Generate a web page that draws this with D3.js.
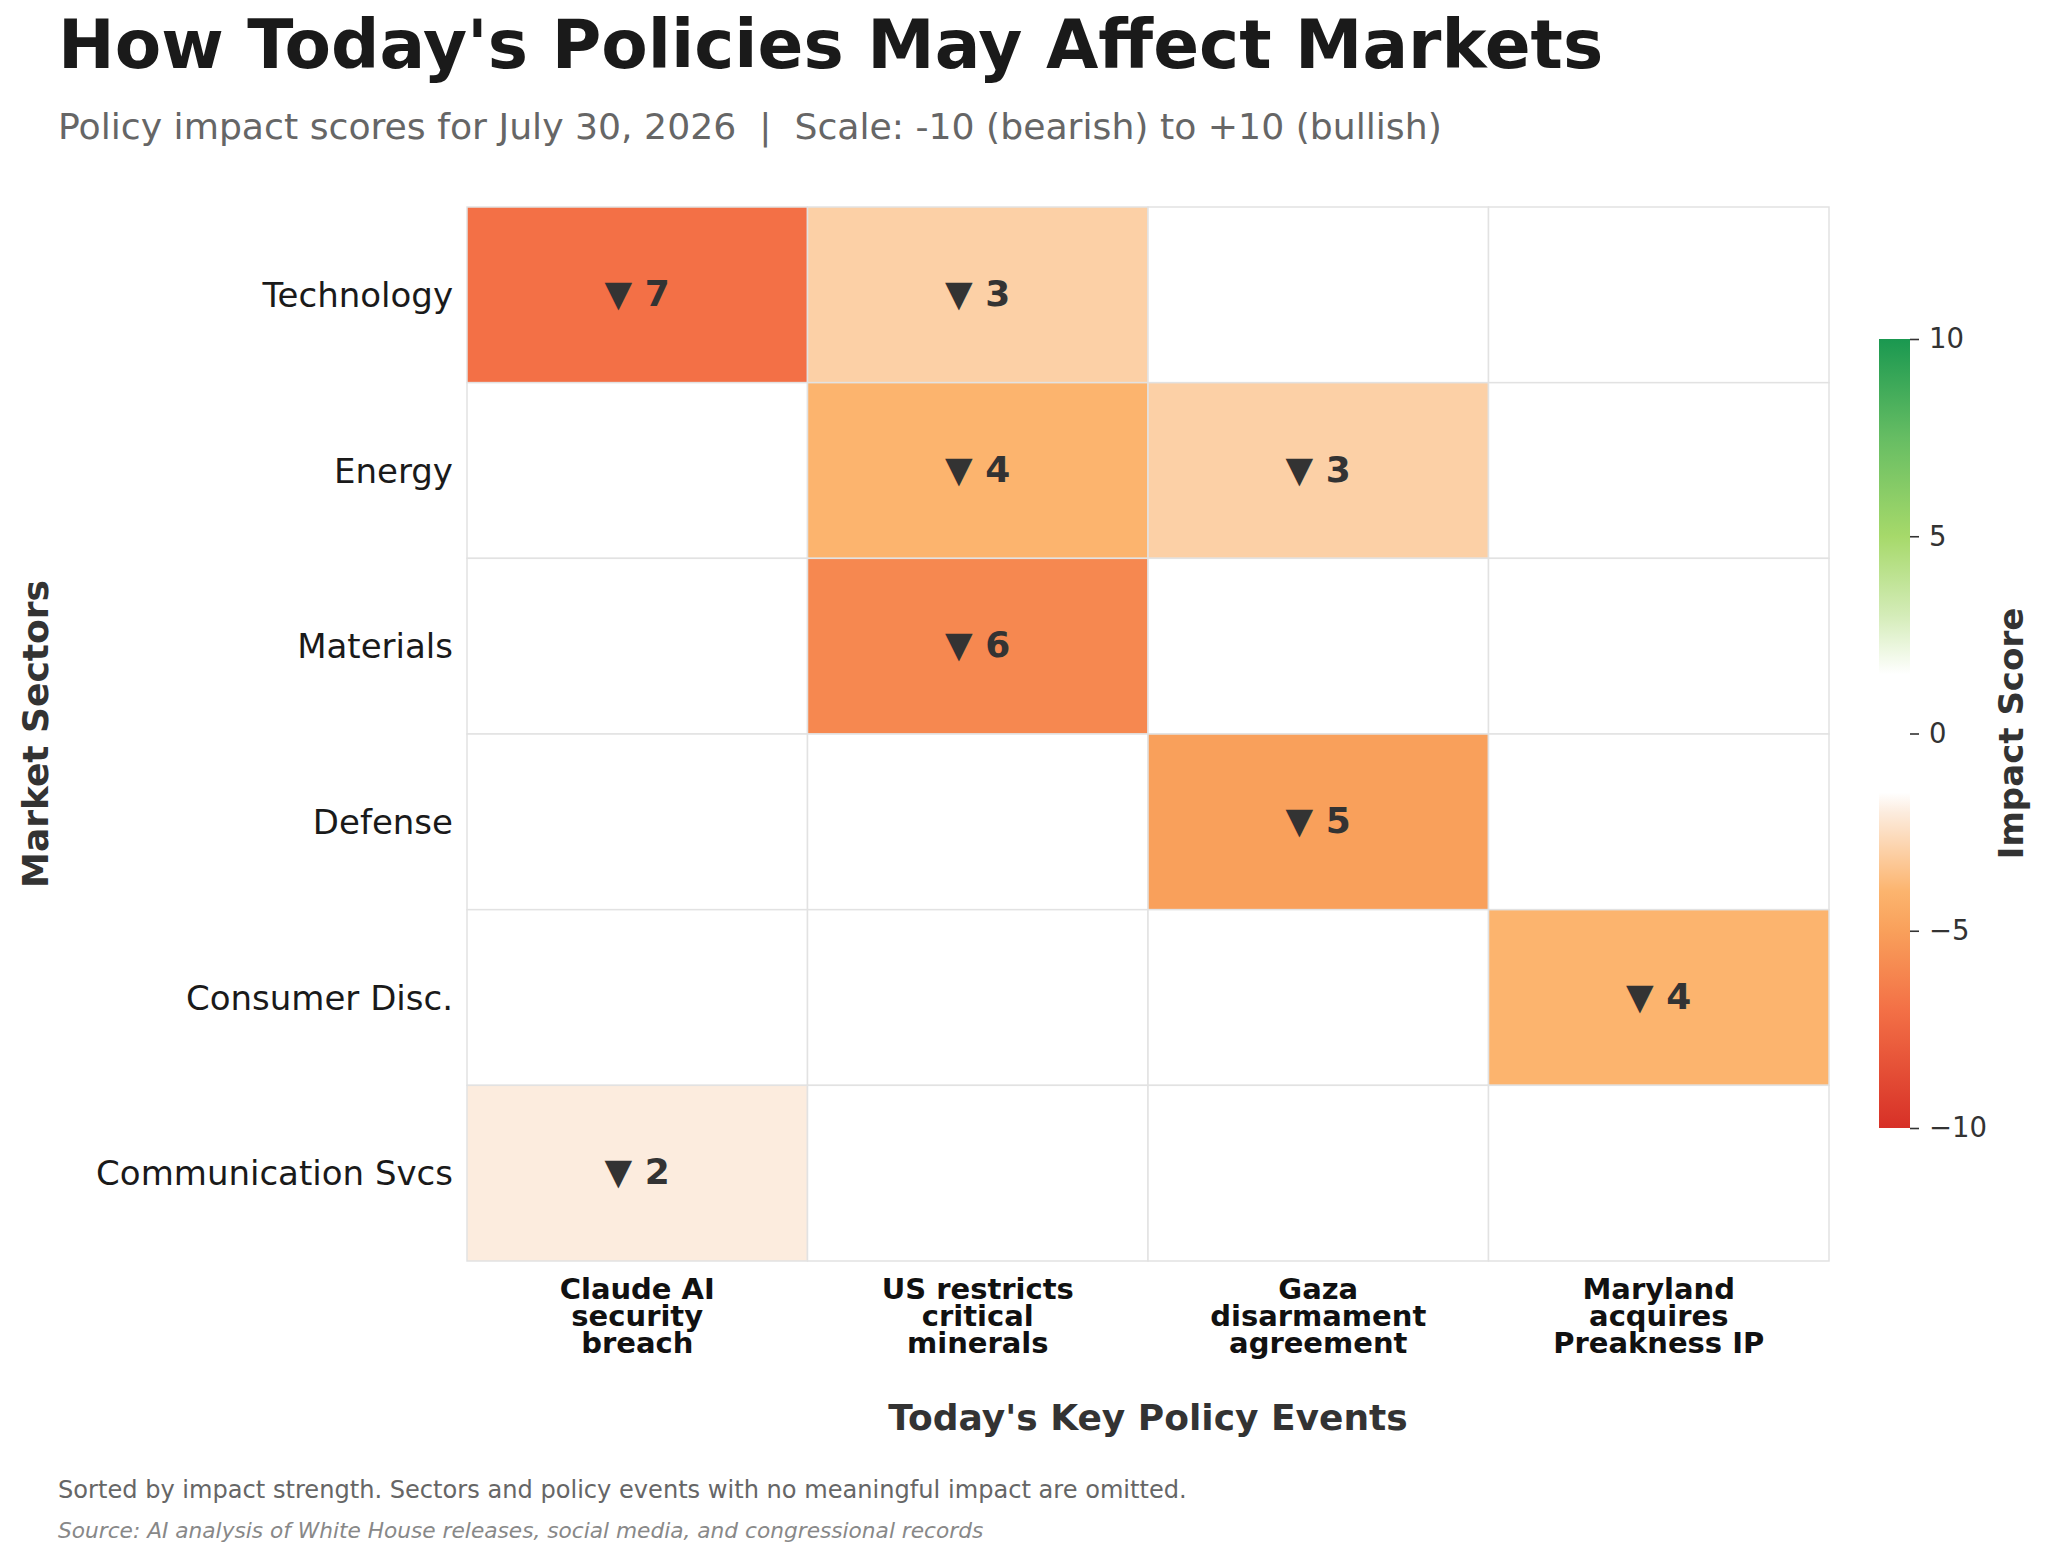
<!DOCTYPE html>
<html>
<head>
<meta charset="utf-8">
<script src="https://cdn.jsdelivr.net/npm/d3@7"></script>
<style>
  body { margin: 0; background: #fff; }
  svg { display: block; font-family: "DejaVu Sans", sans-serif; }
</style>
</head>
<body>
<svg id="chart" width="2048" height="1560"></svg>
<script>
// sectors (rows) and policy events (columns)
const sectors = ["Technology", "Energy", "Materials", "Defense", "Consumer Disc.", "Communication Svcs"];
const events = ["Claude AI security breach", "US restricts critical minerals", "Gaza disarmament agreement", "Maryland acquires Preakness IP"];
const eventLines = [
  ["Claude AI", "security", "breach"],
  ["US restricts", "critical", "minerals"],
  ["Gaza", "disarmament", "agreement"],
  ["Maryland", "acquires", "Preakness IP"]
];
// impact scores, one row per sector
const scores = [
  [-7, -3, 0, 0],
  [0, -4, -3, 0],
  [0, -6, 0, 0],
  [0, 0, -5, 0],
  [0, 0, 0, -4],
  [-2, 0, 0, 0]
];
const cbarTicks = [-10, -5, 0, 5, 10];

// colour ramp: red (bearish) -> white (neutral) -> green (bullish)
const colorStops = [-10, -7, -6, -5, -4, -3, -2, -1.5, 1.5, 3, 5, 7.5, 10];
const colorValues = ["#d73027", "#f37046", "#f68850", "#f9a05b", "#fcb46e", "#fcd0a6", "#fcecde",
  "#ffffff", "#ffffff", "#d4ecb8", "#a6d96a", "#66bd63", "#1a9850"];

const color = d3.scaleLinear()
  .domain(colorStops)
  .range(colorValues)
  .interpolate(d3.interpolateRgb)
  .clamp(true);

const svg = d3.select("#chart");

const grid = { left: 467, right: 1829, top: 207, bottom: 1261 };

const x = d3.scaleBand()
  .domain(events)
  .range([grid.left, grid.right]);

const y = d3.scaleBand()
  .domain(sectors)
  .range([grid.top, grid.bottom]);

// flatten the table into cells
const cells = [];
scores.forEach((row, i) => {
  row.forEach((v, j) => {
    cells.push({ sector: sectors[i], event: events[j], value: v });
  });
});

svg.append("g")
  .selectAll("rect")
  .data(cells)
  .enter()
  .append("rect")
  .attr("x", d => x(d.event))
  .attr("y", d => y(d.sector))
  .attr("width", x.bandwidth())
  .attr("height", y.bandwidth())
  .attr("fill", d => color(d.value))
  .attr("stroke", "#e2e2e2")
  .attr("stroke-width", 1.5);

// annotations
svg.append("g")
  .selectAll("text")
  .data(cells.filter(d => d.value !== 0))
  .enter()
  .append("text")
  .attr("x", d => x(d.event) + x.bandwidth() / 2)
  .attr("y", d => y(d.sector) + y.bandwidth() / 2 + 11)
  .attr("text-anchor", "middle")
  .attr("font-size", 36)
  .attr("font-weight", "bold")
  .attr("fill", "#333")
  .text(d => (d.value < 0 ? "\u25BC " : "\u25B2 ") + Math.abs(d.value));

// y axis
const yAxis = svg.append("g")
  .attr("transform", `translate(${grid.left},0)`)
  .call(d3.axisLeft(y).tickSize(0).tickPadding(14));
yAxis.select(".domain").remove();
yAxis.selectAll("text")
  .attr("font-size", 34)
  .attr("font-family", "DejaVu Sans")
  .attr("fill", "#1a1a1a")
  .attr("dy", "0.36em");

// x axis with wrapped labels
const xAxis = svg.append("g")
  .attr("transform", `translate(0,${grid.bottom})`)
  .call(d3.axisBottom(x).tickSize(0));
xAxis.select(".domain").remove();
xAxis.selectAll("text")
  .attr("font-size", 29)
  .attr("font-family", "DejaVu Sans")
  .attr("font-weight", "bold")
  .attr("fill", "#111")
  .attr("y", 0)
  .attr("dy", null)
  .text(null)
  .each(function (d) {
    const lines = eventLines[events.indexOf(d)];
    d3.select(this).selectAll("tspan")
      .data(lines)
      .enter()
      .append("tspan")
      .attr("x", 0)
      .attr("y", (l, i) => 38 + i * 27)
      .text(l => l);
  });

// axis titles
svg.append("text")
  .attr("x", (grid.left + grid.right) / 2)
  .attr("y", 1430)
  .attr("text-anchor", "middle")
  .attr("font-size", 36)
  .attr("font-weight", "bold")
  .attr("fill", "#333")
  .text("Today's Key Policy Events");

svg.append("text")
  .attr("transform", `translate(48,${(grid.top + grid.bottom) / 2}) rotate(-90)`)
  .attr("text-anchor", "middle")
  .attr("font-size", 36)
  .attr("font-weight", "bold")
  .attr("fill", "#333")
  .text("Market Sectors");

// colour bar
const cbar = { x: 1879, width: 31, top: 339, bottom: 1128 };
const cScale = d3.scaleLinear()
  .domain([-10, 10])
  .range([cbar.bottom, cbar.top]);

const grad = svg.append("defs")
  .append("linearGradient")
  .attr("id", "cbarGrad")
  .attr("x1", 0).attr("y1", 1)
  .attr("x2", 0).attr("y2", 0);
grad.selectAll("stop")
  .data(colorStops)
  .enter()
  .append("stop")
  .attr("offset", d => (d + 10) / 20)
  .attr("stop-color", d => color(d));

svg.append("rect")
  .attr("x", cbar.x)
  .attr("y", cbar.top)
  .attr("width", cbar.width)
  .attr("height", cbar.bottom - cbar.top)
  .attr("fill", "url(#cbarGrad)");

const cAxis = svg.append("g")
  .attr("transform", `translate(${cbar.x + cbar.width},0)`)
  .call(d3.axisRight(cScale)
    .tickValues(cbarTicks)
    .tickSize(9)
    .tickPadding(10)
    .tickFormat(d => d < 0 ? "\u2212" + Math.abs(d) : d));
cAxis.select(".domain").remove();
cAxis.selectAll("line").attr("stroke", "#333").attr("stroke-width", 1.6);
cAxis.selectAll("text")
  .attr("font-size", 27.5)
  .attr("font-family", "DejaVu Sans")
  .attr("fill", "#333");

svg.append("text")
  .attr("transform", `translate(2023,${(cbar.top + cbar.bottom) / 2}) rotate(-90)`)
  .attr("text-anchor", "middle")
  .attr("font-size", 34)
  .attr("font-weight", "bold")
  .attr("fill", "#333")
  .text("Impact Score");

// titles and notes
svg.append("text")
  .attr("x", 58)
  .attr("y", 68)
  .attr("font-size", 67.7)
  .attr("font-weight", "bold")
  .attr("fill", "#1a1a1a")
  .text("How Today's Policies May Affect Markets");

svg.append("text")
  .attr("x", 58)
  .attr("y", 139)
  .attr("font-size", 36.2)
  .attr("fill", "#666")
  .attr("xml:space", "preserve")
  .style("white-space", "pre")
  .text("Policy impact scores for July 30, 2026  |  Scale: -10 (bearish) to +10 (bullish)");

svg.append("text")
  .attr("x", 58)
  .attr("y", 1498)
  .attr("font-size", 24.1)
  .attr("fill", "#666")
  .text("Sorted by impact strength. Sectors and policy events with no meaningful impact are omitted.");

svg.append("text")
  .attr("x", 58)
  .attr("y", 1538)
  .attr("font-size", 21.7)
  .attr("font-style", "italic")
  .attr("fill", "#888")
  .text("Source: AI analysis of White House releases, social media, and congressional records");
</script>
</body>
</html>
